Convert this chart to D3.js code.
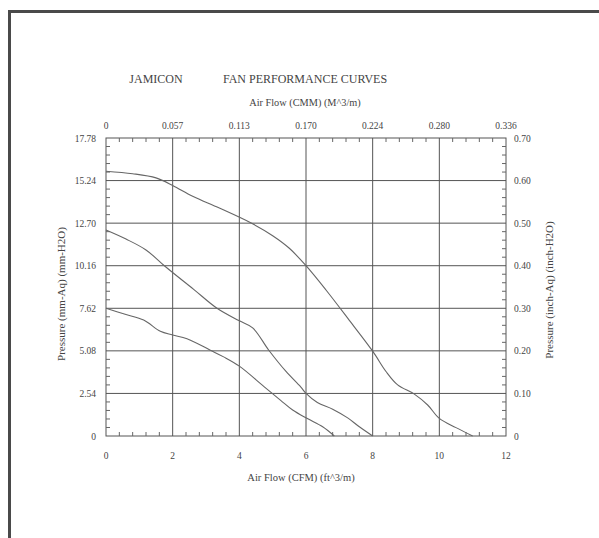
<!DOCTYPE html>
<html><head><meta charset="utf-8">
<script src="https://cdn.jsdelivr.net/npm/d3@7"></script>
<style>body{margin:0;background:#fff}svg{display:block}text{font-family:"Liberation Serif","DejaVu Serif",serif;fill:#444}</style>
</head><body>
<svg id="c" width="599" height="538"></svg>
<script>
// Data
const xTicksCFM = [0, 2, 4, 6, 8, 10, 12];
const xTicksCMM = ["0", "0.057", "0.113", "0.170", "0.224", "0.280", "0.336"];
const yTicksMM = ["0", "2.54", "5.08", "7.62", "10.16", "12.70", "15.24", "17.78"];
const yTicksInch = ["0", "0.10", "0.20", "0.30", "0.40", "0.50", "0.60", "0.70"];
const curveHigh = [[0,15.8],[0.8,15.65],[1.5,15.4],[2.0,14.95],[2.6,14.3],[3.4,13.6],[4.34,12.72],[5.0,11.95],[5.5,11.2],[6.0,10.16],[6.6,8.71],[7.3,6.9],[8.0,5.06],[8.4,3.85],[8.75,3.05],[9.25,2.5],[9.65,1.85],[10.0,1.05],[10.5,0.5],[11.0,0]];
const curveMid = [[0,12.29],[0.6,11.75],[1.2,11.1],[1.75,10.16],[2.63,8.75],[3.33,7.62],[4.0,6.87],[4.4,6.45],[4.89,5.1],[5.4,3.85],[5.84,2.93],[6.0,2.54],[6.34,2.0],[6.8,1.6],[7.25,1.08],[7.6,0.55],[8.0,0]];
const curveLow = [[0,7.62],[0.6,7.25],[1.13,6.92],[1.63,6.25],[2.0,6.03],[2.43,5.8],[3.13,5.12],[3.53,4.72],[4.0,4.17],[4.74,2.95],[5.24,2.13],[5.6,1.55],[6.04,1.04],[6.5,0.55],[6.85,0]];

const svg = d3.select("#c");
// outer frame
svg.append("path").attr("d","M9.5,600 V11.5 H600").attr("fill","none").attr("stroke","#4a4a4a").attr("stroke-width",3);

const L=106, R=506, T=138, B=436;
const x = d3.scaleLinear().domain([0,12]).range([L,R]);
const y = d3.scaleLinear().domain([0,17.78]).range([B,T]);
const yIdx = d3.scaleLinear().domain([0,7]).range([B,T]);
const xIdx = d3.scaleLinear().domain([0,6]).range([L,R]);

const g = svg.append("g");
// grid
g.selectAll(".gv").data(xTicksCFM.slice(1,-1)).join("line")
 .attr("x1",d=>x(d)).attr("x2",d=>x(d)).attr("y1",T).attr("y2",B)
 .attr("stroke","#555").attr("stroke-width",1);
g.selectAll(".gh").data(yTicksMM.slice(1,-1)).join("line")
 .attr("x1",L).attr("x2",R).attr("y1",(d,i)=>yIdx(i+1)).attr("y2",(d,i)=>yIdx(i+1))
 .attr("stroke","#555").attr("stroke-width",1);
// frame
g.append("rect").attr("x",L).attr("y",T).attr("width",R-L).attr("height",B-T).attr("fill","none").attr("stroke","#555").attr("stroke-width",1);

// minor ticks
const minorX = d3.range(0,12.0001,0.4).filter(v=>Math.abs(v/2-Math.round(v/2))>0.01);
g.selectAll(".mxb").data(minorX).join("line").attr("x1",d=>x(d)).attr("x2",d=>x(d)).attr("y1",B).attr("y2",B-4).attr("stroke","#666");
g.selectAll(".mxt").data(minorX).join("line").attr("x1",d=>x(d)).attr("x2",d=>x(d)).attr("y1",T).attr("y2",T+4).attr("stroke","#666");
const minorY = d3.range(0,7.0001,0.2).filter(v=>Math.abs(v-Math.round(v))>0.01);
g.selectAll(".myl").data(minorY).join("line").attr("y1",d=>yIdx(d)).attr("y2",d=>yIdx(d)).attr("x1",L).attr("x2",L+4).attr("stroke","#666");
g.selectAll(".myr").data(minorY).join("line").attr("y1",d=>yIdx(d)).attr("y2",d=>yIdx(d)).attr("x1",R).attr("x2",R-4).attr("stroke","#666");

// tick labels
const fs = 9.5;
g.selectAll(".lb").data(xTicksCFM).join("text").attr("x",d=>x(d)).attr("y",459).attr("text-anchor","middle").attr("font-size",fs).text(d=>d);
g.selectAll(".lt").data(xTicksCMM).join("text").attr("x",(d,i)=>xIdx(i)).attr("y",129).attr("text-anchor","middle").attr("font-size",fs).text(d=>d);
g.selectAll(".ll").data(yTicksMM).join("text").attr("x",96).attr("y",(d,i)=>yIdx(i)+3.5).attr("text-anchor","end").attr("font-size",fs).text(d=>d);
g.selectAll(".lr").data(yTicksInch).join("text").attr("x",514).attr("y",(d,i)=>yIdx(i)+3.5).attr("text-anchor","start").attr("font-size",fs).text(d=>d);

// titles
svg.append("text").attr("x",156).attr("y",83).attr("text-anchor","middle").attr("font-size",12).text("JAMICON");
svg.append("text").attr("x",305).attr("y",83).attr("text-anchor","middle").attr("font-size",12).text("FAN PERFORMANCE CURVES");
svg.append("text").attr("x",305).attr("y",106).attr("text-anchor","middle").attr("font-size",10.3).text("Air Flow (CMM) (M^3/m)");
svg.append("text").attr("x",301).attr("y",481).attr("text-anchor","middle").attr("font-size",10.5).text("Air Flow (CFM) (ft^3/m)");
svg.append("text").attr("transform","translate(65,294) rotate(-90)").attr("text-anchor","middle").attr("font-size",11).text("Pressure (mm-Aq) (mm-H2O)");
svg.append("text").attr("transform","translate(553,290) rotate(-90)").attr("text-anchor","middle").attr("font-size",11).text("Pressure (inch-Aq) (inch-H2O)");

// curves
const line = d3.line().x(d=>x(d[0])).y(d=>y(d[1])).curve(d3.curveCatmullRom.alpha(0.5));
[curveHigh, curveMid, curveLow].forEach(c=>{
  svg.append("path").datum(c).attr("d",line).attr("fill","none").attr("stroke","#666").attr("stroke-width",1.1);
});
</script>
</body></html>
